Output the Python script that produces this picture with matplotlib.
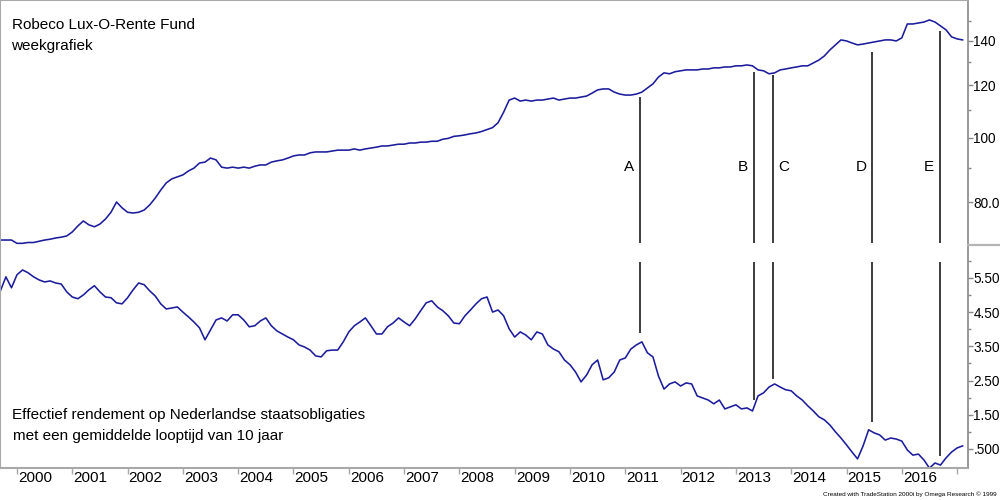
import numpy as np
import matplotlib
matplotlib.use("Agg")
import matplotlib.pyplot as plt
from matplotlib.ticker import FixedLocator, FixedFormatter, NullFormatter

plt.rcParams["font.family"] = ["Liberation Sans", "DejaVu Sans"]

# ---------------- data ----------------
START_YEAR = 1999.7   # first sample
STEP = 0.1            # years between samples

fund_values = [
    70.1, 70.1, 70.1, 69.3, 69.3, 69.5, 69.5, 69.8, 70.1, 70.3,
    70.6, 70.8, 71.1, 72.1, 73.6, 74.9, 73.9, 73.4, 74.1, 75.4,
    77.2, 80.0, 78.4, 77.2, 77.0, 77.2, 77.8, 79.2, 81.1, 83.4,
    85.5, 86.7, 87.3, 87.9, 89.1, 90.0, 91.6, 91.9, 93.2, 92.6,
    90.3, 90.0, 90.3, 90.0, 90.3, 90.0, 90.6, 91.0, 91.0, 91.9,
    92.3, 92.6, 93.2, 93.9, 94.2, 94.2, 94.9, 95.2, 95.2, 95.2,
    95.5, 95.8, 95.8, 95.8, 96.2, 95.8, 96.2, 96.5, 96.8, 97.2,
    97.2, 97.5, 97.8, 97.8, 98.2, 98.2, 98.5, 98.5, 98.8, 98.8,
    99.5, 99.8, 100.5, 100.7, 101.0, 101.4, 101.7, 102.2, 102.9, 103.6,
    105.4, 109.3, 114.0, 114.8, 113.6, 114.0, 113.6, 114.0, 114.0, 114.4,
    114.8, 114.0, 114.4, 114.8, 114.8, 115.2, 115.6, 116.8, 118.1, 118.5,
    118.5, 117.2, 116.4, 116.0, 116.0, 116.4, 117.2, 118.9, 120.6, 123.5,
    125.3, 124.9, 125.8, 126.2, 126.6, 126.6, 126.6, 127.0, 127.0, 127.5,
    127.5, 127.9, 127.9, 128.4, 128.4, 128.8, 128.4, 126.6, 126.2, 124.9,
    125.3, 126.6, 127.0, 127.5, 127.9, 128.4, 128.4, 129.7, 131.0, 132.9,
    135.7, 138.1, 140.5, 140.0, 139.0, 138.1, 138.5, 139.0, 139.5, 140.0,
    140.5, 140.5, 140.0, 141.5, 148.5, 148.5, 149.0, 149.5, 150.6, 149.5,
    147.5, 145.5, 142.0, 141.0, 140.5,
]

yield_values = [
    5.12, 5.53, 5.21, 5.59, 5.73, 5.65, 5.53, 5.44, 5.38, 5.41,
    5.35, 5.32, 5.09, 4.94, 4.89, 5.00, 5.15, 5.27, 5.09, 4.94,
    4.92, 4.77, 4.74, 4.92, 5.15, 5.35, 5.30, 5.12, 4.97, 4.74,
    4.59, 4.62, 4.65, 4.50, 4.36, 4.21, 4.04, 3.69, 3.98, 4.27,
    4.33, 4.24, 4.42, 4.42, 4.27, 4.07, 4.10, 4.24, 4.33, 4.10,
    3.95, 3.86, 3.77, 3.69, 3.54, 3.48, 3.39, 3.22, 3.19, 3.37,
    3.39, 3.39, 3.63, 3.92, 4.10, 4.21, 4.33, 4.10, 3.86, 3.86,
    4.07, 4.18, 4.33, 4.21, 4.10, 4.30, 4.54, 4.77, 4.83, 4.65,
    4.54, 4.39, 4.18, 4.16, 4.39, 4.56, 4.74, 4.89, 4.94, 4.50,
    4.56, 4.39, 4.01, 3.77, 3.92, 3.83, 3.69, 3.92, 3.86, 3.54,
    3.42, 3.34, 3.10, 2.96, 2.75, 2.46, 2.66, 2.96, 3.10, 2.52,
    2.58, 2.75, 3.10, 3.16, 3.42, 3.54, 3.63, 3.31, 3.19, 2.63,
    2.25, 2.40, 2.46, 2.34, 2.43, 2.40, 2.05, 1.99, 1.93, 1.82,
    1.93, 1.67, 1.73, 1.79, 1.67, 1.70, 1.61, 2.05, 2.14, 2.31,
    2.40, 2.31, 2.23, 2.20, 2.05, 1.93, 1.76, 1.61, 1.44, 1.35,
    1.20, 1.00, 0.82, 0.62, 0.41, 0.21, 0.59, 1.06, 0.97, 0.91,
    0.76, 0.82, 0.79, 0.73, 0.47, 0.32, 0.35, 0.18, -0.06, 0.09,
    0.03, 0.24, 0.41, 0.53, 0.59,
]

year_ticks = list(range(2000, 2018))
year_labels = [str(y) for y in range(2000, 2017)] + [""]

fund_ticks = [80, 100, 120, 140]
fund_tick_labels = ["80.0", "100", "120", "140"]
fund_minor = [90, 110, 130, 150]

yield_ticks = [0.5, 1.5, 2.5, 3.5, 4.5, 5.5]
yield_tick_labels = [".500", "1.50", "2.50", "3.50", "4.50", "5.50"]
yield_minor = [1, 2, 3, 4, 5, 6]

event_labels = ["A", "B", "C", "D", "E"]
event_years = [2011.27, 2013.33, 2013.67, 2015.46, 2016.69]
event_fund = [115.2, 125.7, 124.4, 134.8, 145.0]   # upper lines end just below the fund line
event_yield = [3.89, 1.93, 2.55, 1.29, 0.30]       # lower lines end just above the yield line

title_lines = ["Robeco Lux-O-Rente Fund", "weekgrafiek"]
yield_caption = ["Effectief rendement op Nederlandse staatsobligaties",
                 "met een gemiddelde looptijd van 10 jaar"]
credit = "Created with TradeStation 2000i by Omega Research \u00a9 1999"

# ---------------- drawing ----------------
years = START_YEAR + STEP * np.arange(len(fund_values))

W, H = 1000, 500
fig = plt.figure(figsize=(W / 100, H / 100), dpi=100)
fig.patch.set_facecolor("white")

X_RIGHT = 968
Y_SEP = 245
Y_AXIS = 468
ax1 = fig.add_axes([0, 1 - Y_SEP / H, X_RIGHT / W, Y_SEP / H])
ax2 = fig.add_axes([0, 1 - Y_AXIS / H, X_RIGHT / W, (Y_AXIS - Y_SEP) / H])

LINE = "#1c1c9c"
SPINE = "#a8a8a8"
RSPINE = "#888888"
XMIN, XMAX = 1999.693, 2017.197

for ax in (ax1, ax2):
    ax.set_xlim(XMIN, XMAX)
    ax.set_facecolor("white")
    ax.yaxis.tick_right()
    ax.tick_params(axis="y", which="both", direction="out", colors=RSPINE,
                   labelcolor="black", labelsize=9.8, pad=0.3, width=1)
    ax.tick_params(axis="y", which="major", length=3.5)
    ax.tick_params(axis="y", which="minor", length=2.5)
    ax.spines["left"].set_color(SPINE)
    ax.spines["left"].set_linewidth(1.5)
    ax.spines["right"].set_color(RSPINE)
    ax.spines["right"].set_linewidth(1.2)

# upper panel
ax1.plot(years, fund_values, color=LINE, lw=1.15)
ax1.set_yscale("log")
ax1.set_ylim(68.9, 161.4)
ax1.yaxis.set_major_locator(FixedLocator(fund_ticks))
ax1.yaxis.set_major_formatter(FixedFormatter(fund_tick_labels))
ax1.yaxis.set_minor_locator(FixedLocator(fund_minor))
ax1.yaxis.set_minor_formatter(NullFormatter())
ax1.set_xticks([])
ax1.spines["top"].set_color(SPINE)
ax1.spines["top"].set_linewidth(1.5)
ax1.spines["bottom"].set_visible(False)

# lower panel
ax2.plot(years, yield_values, color=LINE, lw=1.15)
ax2.set_ylim(-0.056, 6.46)
ax2.yaxis.set_major_locator(FixedLocator(yield_ticks))
ax2.yaxis.set_major_formatter(FixedFormatter(yield_tick_labels))
ax2.yaxis.set_minor_locator(FixedLocator(yield_minor))
ax2.yaxis.set_minor_formatter(NullFormatter())
ax2.spines["top"].set_visible(False)
ax2.spines["bottom"].set_color(SPINE)
ax2.spines["bottom"].set_linewidth(1.5)
ax2.set_xticks(year_ticks)
ax2.set_xticklabels([])
ax2.tick_params(axis="x", direction="out", length=4, colors=SPINE, width=1)
for yr, lab in zip(year_ticks, year_labels):
    ax2.annotate(lab, xy=(yr, 0), xycoords=("data", "axes fraction"),
                 xytext=(0.8, -2.5), textcoords="offset points",
                 ha="left", va="top", fontsize=11, annotation_clip=False)

# event lines
EV = "#3c3c3c"
UP_BOTTOM = 69.4
LOW_TOP = 5.97
for lab, x, fv, yv in zip(event_labels, event_years, event_fund, event_yield):
    ax1.plot([x, x], [UP_BOTTOM, fv], color=EV, lw=1.4, solid_capstyle="butt")
    ax2.plot([x, x], [yv, LOW_TOP], color=EV, lw=1.4, solid_capstyle="butt")
    dx = 8 if lab == "C" else -8
    ax1.annotate(lab, xy=(x, 0.318), xycoords=("data", "axes fraction"),
                 xytext=(dx, 0), textcoords="offset points",
                 ha="center", va="center", fontsize=11)

# separator line on the right axis area
fig.add_artist(plt.Line2D([X_RIGHT / W, 1], [1 - Y_SEP / H] * 2,
                          transform=fig.transFigure, color="#b4b4b4", lw=1.6))

# texts
fig.text(0.012, 1 - 25 / H, title_lines[0], fontsize=11, va="center", ha="left")
fig.text(0.011, 1 - 46 / H, title_lines[1], fontsize=11, va="center", ha="left")
fig.text(0.012, 1 - 415 / H, yield_caption[0], fontsize=11, va="center", ha="left")
fig.text(0.013, 1 - 436 / H, yield_caption[1], fontsize=11, va="center", ha="left")
fig.text(0.997, 1 - 494 / H, credit, fontsize=4.6, va="center", ha="right",
         family=["Liberation Sans Narrow", "Liberation Sans", "DejaVu Sans"])

fig.savefig("out.png", dpi=100, facecolor="white")
